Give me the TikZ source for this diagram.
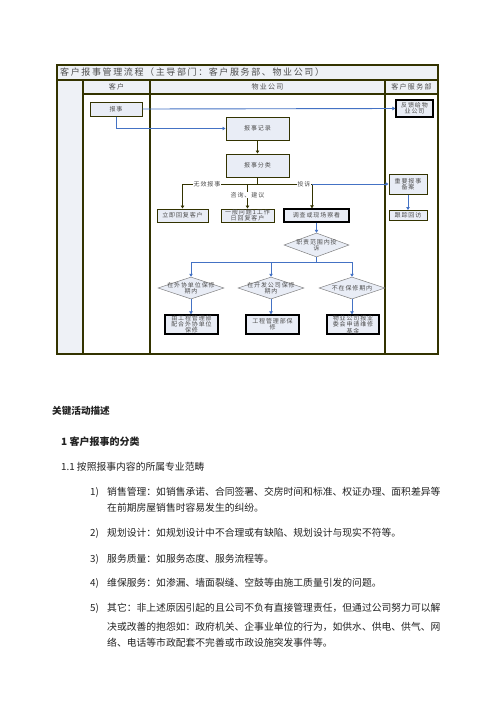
\documentclass[tikz,border=0pt]{standalone}
\usepackage{fontspec}
\setmainfont{Noto Sans CJK SC}
\usetikzlibrary{arrows.meta,shapes.geometric}
\definecolor{framec}{HTML}{333300}
\definecolor{bfill}{HTML}{E9EDF6}
\definecolor{hfill}{HTML}{EEF1F6}
\definecolor{bluec}{HTML}{4472C4}
\definecolor{txtg}{HTML}{4D4D4D}
\definecolor{bodyt}{HTML}{222222}
\begin{document}
\begin{tikzpicture}[x=1pt,y=-1pt,
  flowtxt/.style={font=\fontsize{6}{6.2}\selectfont\addfontfeature{LetterSpace=15}, text=txtg},
  hdtxt/.style={font=\fontsize{7}{7.5}\selectfont\addfontfeature{LetterSpace=18}, text=txtg},
  box/.style={draw=framec, line width=1pt, fill=bfill, inner sep=0pt, align=center, flowtxt},
  kbox/.style={draw=black, line width=1.3pt, fill=bfill, inner sep=0pt, align=center, flowtxt},
  dia/.style={diamond, draw=gray, line width=0.5pt, fill=bfill, inner sep=0pt, minimum width=66pt, minimum height=22pt},
  dtxt/.style={flowtxt, align=center, inner sep=0pt},
  barrow/.style={draw=bluec, line width=0.9pt, -{Triangle[width=3.5pt,length=3pt]}},
  bline/.style={draw=bluec, line width=0.9pt},
  oarrow/.style={draw=framec, line width=0.9pt, -{Triangle[width=3.5pt,length=3pt]}},
  oline/.style={draw=framec, line width=0.9pt},
  lbl/.style={flowtxt, fill=white, inner sep=0.5pt},
  bodyfont/.style={font=\fontsize{9.8}{11}\selectfont, text=bodyt, inner sep=0pt, anchor=west},
  framel/.style={draw=framec, line width=1.1pt}
]
\useasboundingbox (0,0) rectangle (496,702);
\fill[white] (0,0) rectangle (496,702);

% ---- table frame ----
\fill[hfill] (57,65) rectangle (438,94);
\fill[hfill] (57,94) rectangle (83,354);
\draw[framel] (57,65) rectangle (438,354);
\draw[framel] (57,80) -- (438,80);
\draw[framel] (83,94) -- (438,94);
\draw[framel] (83,80) -- (83,354);
\draw[framel] (150,80) -- (150,354);
\draw[framel] (385,80) -- (385,354);

\node[font=\fontsize{9}{10}\selectfont\addfontfeature{LetterSpace=18}, text=txtg, anchor=west, inner sep=0pt] (title) at (60,72.5) {客户报事管理流程（主导部门：客户服务部、物业公司）};
\node[hdtxt] (h1) at (116.5,87) {客户};
\node[hdtxt] (h2) at (267.5,87) {物业公司};
\node[hdtxt] (h3) at (411.5,87) {客户服务部};

% ---- nodes ----
\node[box, minimum width=52pt, minimum height=14pt] (bs) at (116,109) {报事};
\node[box, minimum width=63pt, minimum height=23pt] (jl) at (257.5,128.5) {报事记录};
\node[box, minimum width=63pt, minimum height=23pt] (fl) at (257.5,165.5) {报事分类};
\node[kbox, minimum width=37pt, minimum height=17pt] (fk) at (414.5,108.5) {反馈给物\\业公司};
\node[box, minimum width=38pt, minimum height=20pt] (zy) at (408,184) {重要报事\\备案};
\node[box, minimum width=38pt, minimum height=10pt] (gz) at (408,215.5) {跟踪回访};
\node[box, minimum width=51pt, minimum height=13pt] (lj) at (182.5,215.5) {立即回复客户};
\node[box, minimum width=53pt, minimum height=13pt] (yb) at (247.5,215.5) {一般问题1工作\\日回复客户};
\node[kbox, minimum width=65pt, minimum height=13pt] (dc) at (316.5,215.5) {调查或现场察看};

\node[dia, minimum width=65pt, minimum height=24pt] (zz) at (316.5,245) {};
\node[dtxt] (zzt) at (316.5,245) {职责范围内投\\诉};
\node[dia] (d1) at (191,288) {};
\node[dtxt] (d1t) at (191,288) {在外协单位保修\\期内};
\node[dia] (d2) at (271,288) {};
\node[dtxt] (d2t) at (271,288) {在开发公司保修\\期内};
\node[dia] (d3) at (352,288) {};
\node[dtxt] (d3t) at (352,288) {不在保修期内};

\node[kbox, minimum width=53pt, minimum height=19pt] (b1) at (191.5,324.5) {由工程管理部\\配合外协单位\\保修};
\node[kbox, minimum width=53pt, minimum height=19pt] (b2) at (272.5,324.5) {工程管理部保\\修};
\node[kbox, minimum width=52pt, minimum height=19pt] (b3) at (353,324.5) {物业公司报业\\委会申请维修\\基金};

% ---- connectors ----
\draw[barrow] (bs.east) -- (fk.west);
\draw[barrow] (bs.south) |- (jl.west);
\draw[oarrow] (jl.south) -- (fl.north);
\coordinate (sp) at (257.5,184);
\draw[oline] (fl.south) -- (sp);
\draw[oarrow] (sp) -| (lj.north);
\draw[oarrow] (sp -| yb.north) -- (yb.north);
\coordinate (tsp) at (312,184);
\draw[oline] (sp) -- (tsp);
\draw[oarrow] (tsp) -- (tsp |- dc.north);
\draw[barrow] (tsp) -- (zy.west);
\node[lbl] (l1) at (207,184) {无效报事};
\node[lbl] (l2) at (247.5,195) {咨询、建议};
\node[lbl] (l3) at (304,184) {投诉};
\draw[barrow] (zy.south) -- (gz.north);

\draw[barrow] (dc.south) -- (zz.north);
\coordinate (sp2) at (316.5,262);
\draw[bline] (zz.south) -- (sp2);
\draw[barrow] (sp2) -| (d1.north);
\draw[barrow] (sp2) -| (d3.north);
\draw[barrow] (sp2 -| d2.north) -- (d2.north);
\draw[barrow] (d1.south) -- (b1.north -| d1.south);
\draw[barrow] (d2.south) -- (b2.north -| d2.south);
\draw[barrow] (d3.south) -- (b3.north -| d3.south);

% ---- body text ----
\node[bodyfont, font=\fontsize{9.6}{11}\selectfont\bfseries] (t0) at (52,411) {关键活动描述};
\node[bodyfont, font=\fontsize{10}{11}\selectfont\bfseries] (t1) at (61,442) {1 客户报事的分类};
\node[bodyfont] (t2) at (61,467) {1.1 按照报事内容的所属专业范畴};
\node[bodyfont] (n1) at (90,492) {1)};
\node[bodyfont] (s1) at (107,492) {销售管理：如销售承诺、合同签署、交房时间和标准、权证办理、面积差异等};
\node[bodyfont] (s1b) at (107,508) {在前期房屋销售时容易发生的纠纷。};
\node[bodyfont] (n2) at (90,533) {2)};
\node[bodyfont] (s2) at (107,533) {规划设计：如规划设计中不合理或有缺陷、规划设计与现实不符等。};
\node[bodyfont] (n3) at (90,559) {3)};
\node[bodyfont] (s3) at (107,559) {服务质量：如服务态度、服务流程等。};
\node[bodyfont] (n4) at (90,583) {4)};
\node[bodyfont] (s4) at (107,583) {维保服务：如渗漏、墙面裂缝、空鼓等由施工质量引发的问题。};
\node[bodyfont] (n5) at (90,608) {5)};
\node[bodyfont] (s5) at (107,608) {其它：非上述原因引起的且公司不负有直接管理责任，但通过公司努力可以解};
\node[bodyfont] (s5b) at (107,627) {决或改善的抱怨如：政府机关、企事业单位的行为，如供水、供电、供气、网};
\node[bodyfont] (s5c) at (107,643) {络、电话等市政配套不完善或市政设施突发事件等。};
\end{tikzpicture}
\end{document}
